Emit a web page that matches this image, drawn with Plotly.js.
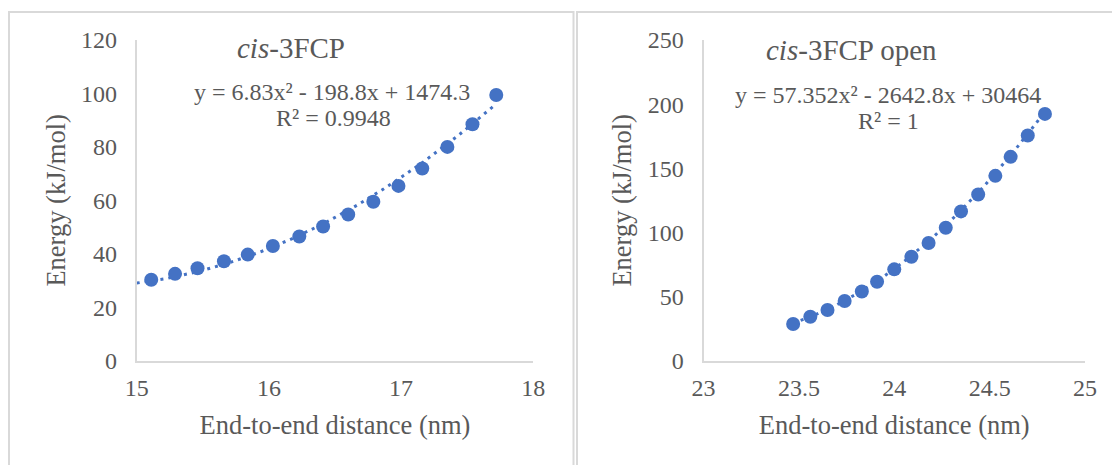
<!DOCTYPE html>
<html>
<head>
<meta charset="utf-8">
<script src="https://cdn.plot.ly/plotly-3.0.1.min.js"></script>
<style>html,body{margin:0;padding:0;background:#fff}#chart{width:1112px;height:465px}</style>
</head>
<body>
<div id="chart"></div>
<script>
// ---- data ----
const leftDistance = [15.11, 15.29, 15.46, 15.66, 15.84, 16.03, 16.23, 16.41, 16.60, 16.79, 16.98, 17.16, 17.35, 17.54, 17.72];
const leftEnergy   = [30.3, 32.5, 34.6, 37.2, 39.7, 42.9, 46.5, 50.2, 54.7, 59.5, 65.4, 71.9, 80.0, 88.5, 99.4];
const rightDistance = [23.47, 23.56, 23.65, 23.74, 23.83, 23.91, 24.00, 24.09, 24.18, 24.27, 24.35, 24.44, 24.53, 24.61, 24.70, 24.79];
const rightEnergy   = [28.6, 34.3, 39.5, 46.5, 54.0, 61.5, 71.2, 81.0, 91.7, 103.6, 116.4, 129.6, 144.1, 158.9, 175.5, 192.4];

// trendline coefficients as printed on the chart: [a, b, c] for y = a x² + b x + c
const leftFit  = [6.83, -198.8, 1474.3];
const rightFit = [57.352, -2642.8, 30464];

const leftTitle = '<i>cis</i>-3FCP';
const rightTitle = '<i>cis</i>-3FCP open';
const leftEquation = 'y = 6.83x² - 198.8x + 1474.3';
const leftR2 = 'R² = 0.9948';
const rightEquation = 'y = 57.352x² - 2642.8x + 30464';
const rightR2 = 'R² = 1';
const xTitle = 'End-to-end distance (nm)';
const yTitle = 'Energy (kJ/mol)';
const leftXTicks = [15, 16, 17, 18];
const leftYTicks = [0, 20, 40, 60, 80, 100, 120];
const rightXTicks = [23, 23.5, 24, 24.5, 25];
const rightYTicks = [0, 50, 100, 150, 200, 250];

// ---- polynomial (order 2) trendline from the printed coefficients ----
function trend(coef, x0, x1) {
  const tx = [], ty = [];
  const N = 80;
  for (let i = 0; i <= N; i++) {
    const x = x0 + (x1 - x0) * i / N;
    tx.push(x); ty.push(coef[0] * x * x + coef[1] * x + coef[2]);
  }
  return {tx, ty};
}
const tL = trend(leftFit, leftXTicks[0], leftDistance[leftDistance.length - 1]);
const tR = trend(rightFit, rightDistance[0], rightDistance[rightDistance.length - 1]);

// ---- styles ----
const W = 1112, H = 465;
const fx = p => p / W, fy = p => 1 - p / H;
const FONT = "'Times New Roman', 'Liberation Serif', serif";
const GREY = '#595959';
const BLUE = '#4472C4';
const AXL = '#d9d9d9';

const traces = [
  {x: tL.tx, y: tL.ty, xaxis: 'x', yaxis: 'y', mode: 'lines', line: {color: BLUE, width: 3, dash: '3px,5px'}, hoverinfo: 'skip'},
  {x: leftDistance, y: leftEnergy, xaxis: 'x', yaxis: 'y', mode: 'markers', marker: {color: BLUE, size: 14}},
  {x: tR.tx, y: tR.ty, xaxis: 'x2', yaxis: 'y2', mode: 'lines', line: {color: BLUE, width: 3, dash: '3px,5px'}, hoverinfo: 'skip'},
  {x: rightDistance, y: rightEnergy, xaxis: 'x2', yaxis: 'y2', mode: 'markers', marker: {color: BLUE, size: 14}}
];

function xAx(domain, ticks, anchor) {
  return {
    domain, anchor, range: [ticks[0], ticks[ticks.length - 1]], tickvals: ticks,
    showline: true, linecolor: AXL, linewidth: 2, showgrid: false, zeroline: false,
    ticks: 'outside', ticklen: 4, tickcolor: 'rgba(0,0,0,0)',
    tickfont: {family: FONT, size: 24, color: GREY},
    title: {text: xTitle, font: {family: FONT, size: 26.5, color: GREY}, standoff: 16},
    automargin: false, fixedrange: true
  };
}
function yAx(domain, ticks, anchor) {
  return {
    domain, anchor, range: [ticks[0], ticks[ticks.length - 1]], tickvals: ticks,
    showline: true, linecolor: AXL, linewidth: 2, showgrid: false, zeroline: false,
    ticks: 'outside', ticklen: 13, tickcolor: 'rgba(0,0,0,0)',
    tickfont: {family: FONT, size: 24, color: GREY},
    title: {text: yTitle, font: {family: FONT, size: 26.5, color: GREY}, standoff: 8},
    automargin: false, fixedrange: true
  };
}

function ann(text, x, y, size) {
  return {text, xref: 'paper', yref: 'paper', x: fx(x), y: fy(y), xanchor: 'center', yanchor: 'middle',
    showarrow: false, font: {family: FONT, size, color: GREY}};
}

const layout = {
  width: W, height: H,
  margin: {l: 0, r: 0, t: 0, b: 0},
  font: {family: FONT, color: GREY},
  paper_bgcolor: '#fff', plot_bgcolor: 'rgba(0,0,0,0)',
  showlegend: false,
  xaxis: xAx([fx(136.7), fx(533.3)], leftXTicks, 'y'),
  yaxis: yAx([fy(360.7), fy(40)], leftYTicks, 'x'),
  xaxis2: xAx([fx(703.5), fx(1085)], rightXTicks, 'y2'),
  yaxis2: yAx([fy(360.7), fy(40)], rightYTicks, 'x2'),
  annotations: [
    ann(leftTitle, 291, 48, 29),
    ann(leftEquation, 332, 92, 24),
    ann(leftR2, 333, 118, 24),
    ann(rightTitle, 851, 50, 29),
    ann(rightEquation, 888, 95, 24),
    ann(rightR2, 888, 121, 24)
  ],
  shapes: [
    {type: 'rect', xref: 'paper', yref: 'paper', x0: fx(9), x1: fx(573.5), y0: fy(480), y1: fy(12), line: {color: AXL, width: 2}, layer: 'below'},
    {type: 'rect', xref: 'paper', yref: 'paper', x0: fx(577), x1: fx(1125), y0: fy(480), y1: fy(12), line: {color: AXL, width: 2}, layer: 'below'}
  ]
};

Plotly.newPlot('chart', traces, layout, {displayModeBar: false, staticPlot: true});
</script>
</body>
</html>
